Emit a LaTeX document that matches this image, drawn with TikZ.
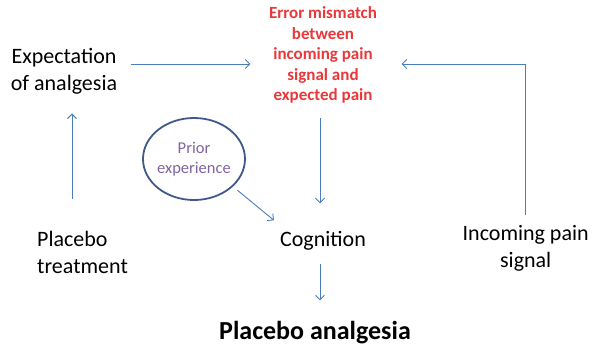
\documentclass[tikz,border=0pt]{standalone}
\usepackage{fontspec}
\setmainfont{Carlito}
\usetikzlibrary{arrows.meta,shapes.geometric}
\definecolor{arrblue}{HTML}{4A7EBB}
\definecolor{errred}{HTML}{E8383A}
\definecolor{prpl}{HTML}{8064A2}
\definecolor{ellblue}{HTML}{3F5A8A}
\tikzset{
  x=1pt,y=1pt,
  lbl/.style={inner sep=0pt,align=center,font=\fontsize{22}{27}\selectfont},
  errtxt/.style={inner sep=0pt,align=center,text=errred,font=\fontsize{17}{20.5}\selectfont\bfseries},
  arr/.style={draw=arrblue,line width=0.9pt,-{Straight Barb[length=4.5pt,width=9pt]}},
  priorell/.style={ellipse,draw=ellblue,line width=1.8pt,inner xsep=-2pt,inner ysep=0pt,
    minimum width=102pt,minimum height=82pt,align=center,text=prpl,font=\fontsize{16.5}{20}\selectfont}
}
\begin{document}
\begin{tikzpicture}
\useasboundingbox (0,0) rectangle (592,-351);
\node[lbl] (exp) at (64,-70.8) {Expectation\\of analgesia};
\node[errtxt] (err) at (323,-55) {Error mismatch\\between\\incoming pain\\signal and\\expected pain};
\node[priorell] (prior) at (194,-159) {Prior\\experience};
\node[lbl,align=left,anchor=west] (pt) at (37,-252) {Placebo\\treatment};
\node[lbl] (cog) at (323,-241) {Cognition};
\node[lbl] (inc) at (525.7,-248) {Incoming pain\\signal};
\node[inner sep=0pt,font=\fontsize{26}{31}\selectfont\bfseries] (pa) at (315,-333) {Placebo analgesia};
% arrows
\coordinate (a1) at ([shift={(14pt,6.8pt)}]exp.east);
\coordinate (eR) at ([xshift=24.5pt]err.east);
\coordinate (eL) at ([xshift=-18.5pt]err.west);
\draw[arr] (a1) -- (eL |- a1);
\draw[arr] ([yshift=10pt]inc.north) |- (eR |- a1);
\coordinate (eS) at ([xshift=-3pt,yshift=-14.5pt]err.south);
\coordinate (cN) at ([yshift=28pt]cog.north);
\draw[arr] (eS) -- (eS |- cN);
\coordinate (cS) at ([xshift=-3pt,yshift=-13.5pt]cog.south);
\coordinate (paN) at ([yshift=21pt]pa.north);
\draw[arr] (cS) -- (cS |- paN);
\coordinate (pN) at ([xshift=35pt,yshift=32pt]pt.north west);
\coordinate (xS) at ([yshift=-19.5pt]exp.south);
\draw[arr] (pN) -- (pN |- xS);
\draw[arr] ([shift={(6pt,-2pt)}]prior.-38) -- ([shift={(-6pt,11pt)}]cog.north west);
\end{tikzpicture}
\end{document}
